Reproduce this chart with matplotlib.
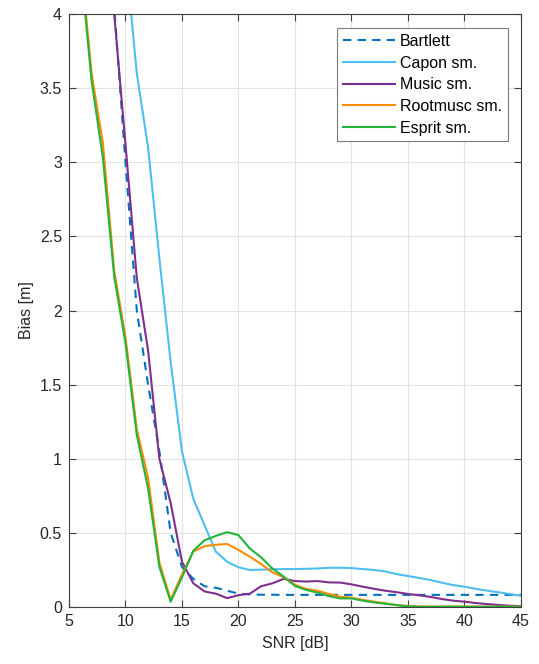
import numpy as np
import matplotlib
matplotlib.use("Agg")
import matplotlib.pyplot as plt

plt.rcParams['font.family'] = ['Liberation Sans', 'DejaVu Sans']

snr = list(range(5, 46))

bartlett = [5.6, 5.1, 4.7, 4.4, 4.05, 3.0, 2.0, 1.5, 1.05, 0.5, 0.27, 0.19, 0.14, 0.13, 0.11,
            0.09, 0.085, 0.083, 0.083, 0.082, 0.082, 0.082, 0.082, 0.082, 0.082, 0.082,
            0.082, 0.082, 0.082, 0.082, 0.082, 0.082, 0.082, 0.082, 0.082, 0.082, 0.082,
            0.082, 0.082, 0.082, 0.082]
capon = [6.0, 5.6, 5.2, 4.9, 4.6, 4.4, 3.6, 3.1, 2.35, 1.65, 1.05, 0.73, 0.55, 0.373, 0.305,
         0.268, 0.25, 0.252, 0.255, 0.256, 0.256, 0.258, 0.26, 0.265, 0.265, 0.263,
         0.256, 0.25, 0.24, 0.222, 0.209, 0.196, 0.182, 0.164, 0.148, 0.137, 0.123,
         0.11, 0.1, 0.088, 0.076]
music = [5.8, 5.4, 5.0, 4.6, 4.0, 3.12, 2.22, 1.73, 1.0, 0.70, 0.305, 0.16, 0.105, 0.09, 0.06,
         0.08, 0.09, 0.14, 0.16, 0.19, 0.175, 0.172, 0.175, 0.166, 0.165, 0.153,
         0.137, 0.123, 0.11, 0.10, 0.088, 0.079, 0.068, 0.054, 0.043, 0.036, 0.027,
         0.02, 0.014, 0.009, 0.006]
rootmusic = [5.1, 4.4, 3.6, 3.13, 2.27, 1.82, 1.2, 0.87, 0.30, 0.05, 0.22, 0.375, 0.41, 0.42,
             0.425, 0.385, 0.34, 0.29, 0.235, 0.2, 0.15, 0.122, 0.11, 0.088, 0.07, 0.063,
             0.048, 0.036, 0.025, 0.013, 0.007, 0.004, 0.003, 0.003, 0.003, 0.003, 0.003,
             0.003, 0.003, 0.003, 0.003]
esprit = [5.0, 4.35, 3.55, 3.03, 2.23, 1.78, 1.16, 0.8, 0.27, 0.036, 0.2, 0.38, 0.45, 0.48,
          0.505, 0.485, 0.395, 0.335, 0.26, 0.205, 0.142, 0.115, 0.097, 0.074, 0.058,
          0.058, 0.043, 0.031, 0.022, 0.013, 0.004, 0.002, 0.002, 0.002, 0.002, 0.002,
          0.002, 0.002, 0.002, 0.002, 0.002]

fig = plt.figure(figsize=(5.39, 6.64), dpi=100)
ax = fig.add_axes([0.128, 0.0858, 0.8386, 0.8931])

lw = 1.5
ax.plot(snr, bartlett, color='#0072BD', lw=lw, ls=(0, (4, 3)), label='Bartlett')
ax.plot(snr, capon, color='#4DBEEE', lw=lw, label='Capon sm.')
ax.plot(snr, music, color='#7E2F8E', lw=lw, label='Music sm.')
ax.plot(snr, rootmusic, color='#FF8C00', lw=lw, label='Rootmusc sm.')
ax.plot(snr, esprit, color='#25B33C', lw=lw, label='Esprit sm.')

ax.set_xlim(5, 45)
ax.set_ylim(0, 4)
ax.set_xticks(np.arange(5, 46, 5))
ax.set_yticks(np.arange(0, 4.01, 0.5))
ax.set_yticklabels(['0', '0.5', '1', '1.5', '2', '2.5', '3', '3.5', '4'])

ax.grid(True, color='#E3E3E3', lw=0.8)
ax.set_axisbelow(True)
for s in ax.spines.values():
    s.set_color('#404040')
    s.set_linewidth(0.8)
ax.tick_params(direction='in', top=True, right=True, length=5, width=0.8,
               colors='#404040', labelcolor='#262626', labelsize=11.5, pad=5)

ax.set_xlabel('SNR [dB]', fontsize=11.5, color='#262626', labelpad=5)
ax.set_ylabel('Bias [m]', fontsize=11.5, color='#262626', labelpad=4)

leg = ax.legend(loc='upper right', bbox_to_anchor=(0.971, 0.976), borderaxespad=0,
                fontsize=11.5, handlelength=3.3, handletextpad=0.3, labelspacing=0.42,
                borderpad=0.35, fancybox=False, framealpha=1, edgecolor='#7A7A7A')
leg.get_frame().set_linewidth(0.8)

fig.savefig('out.png', dpi=100, facecolor='white')
